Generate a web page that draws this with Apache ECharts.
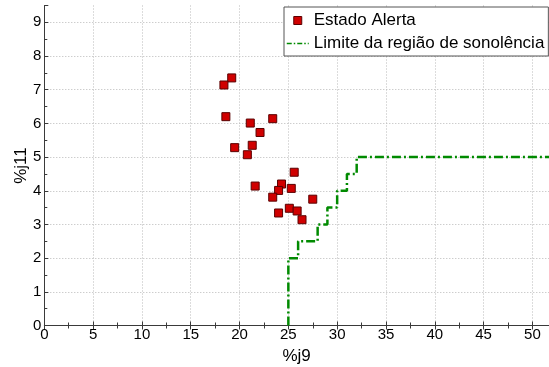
<!DOCTYPE html>
<html>
<head>
<meta charset="utf-8">
<script src="https://cdn.jsdelivr.net/npm/echarts@6/dist/echarts.min.js"></script>
<style>
  html, body { margin: 0; padding: 0; background: #fff; }
  #chart { width: 549px; height: 367px; }
</style>
</head>
<body>
<div id="chart"></div>
<script>
// Alert-state samples: %j9 (x) against %j11 (y)
const alertX = [19.2, 18.4, 18.6, 21.1, 23.4, 22.1, 19.5, 21.3, 20.8, 25.6,
                21.6, 24.3, 25.3, 24.0, 23.4, 27.5, 25.1, 24.0, 25.9, 26.4];
const alertY = [7.35, 7.14, 6.20, 6.01, 6.14, 5.73, 5.28, 5.35, 5.07, 4.55,
                4.14, 4.20, 4.07, 4.01, 3.81, 3.75, 3.48, 3.34, 3.40, 3.14];

// Stepped boundary of the drowsiness region
const limitX = [25, 25, 26, 26, 28, 28, 29, 29, 30, 30, 31, 31, 32, 32, 52];
const limitY = [0, 2, 2, 2.5, 2.5, 3, 3, 3.5, 3.5, 4, 4, 4.5, 4.5, 5, 5];

const seriesNames = ['Estado Alerta', 'Limite da região de sonolência'];

const X_MIN = 0, X_MAX = 51.7, X_STEP = 5;
const Y_MIN = 0, Y_MAX = 9.5, Y_STEP = 1;

const FONT = '"Liberation Sans", Arial, sans-serif';
const AXIS_COLOR = '#3a3a3a';
const GRID_COLOR = '#b8b8b8';
const MARK_FILL = '#d00000';
const MARK_EDGE = '#5a0000';
const LIMIT_COLOR = '#008a00';

const chart = echarts.init(document.getElementById('chart'), null, { renderer: 'canvas' });

const tickCommon = {
  axisTick: { show: true, inside: true, length: 4, lineStyle: { color: AXIS_COLOR } },
  minorTick: { show: true, splitNumber: 2, length: 3, lineStyle: { color: AXIS_COLOR } }
};

chart.setOption({
  animation: false,
  backgroundColor: '#fff',
  grid: { left: 44.3, right: 0, top: 5.5, bottom: 41.5, containLabel: false, outerBoundsMode: 'none' },
  legend: {
    orient: 'vertical',
    left: 284,
    top: 7,
    backgroundColor: '#fff',
    borderColor: '#555',
    borderWidth: 1,
    padding: [4, 4, 3, 2],
    itemWidth: 22,
    itemHeight: 8,
    itemGap: 4,
    symbolKeepAspect: true,
    textStyle: { fontFamily: FONT, fontSize: 17, color: '#000', lineHeight: 19 },
    data: [
      {
        name: seriesNames[0],
        icon: 'path://M0,0L1,0L1,1L0,1Z',
        itemStyle: { color: MARK_FILL, borderColor: MARK_EDGE, borderWidth: 1 }
      },
      {
        name: seriesNames[1],
        itemStyle: { opacity: 0 },
        lineStyle: { color: LIMIT_COLOR, width: 1.5, type: [5, 2, 1.5, 2] }
      }
    ]
  },
  xAxis: [
    Object.assign({
      type: 'value', min: X_MIN, max: X_MAX, interval: X_STEP,
      name: '%j9', nameLocation: 'middle', nameGap: 22, nameMoveOverlap: false,
      nameTextStyle: { fontFamily: FONT, fontSize: 17, color: '#000', verticalAlign: 'top' },
      axisLine: { show: true, onZero: false, lineStyle: { color: AXIS_COLOR, width: 1 } },
      axisLabel: { fontFamily: FONT, fontSize: 15, color: '#000', margin: 2, showMaxLabel: false },
      splitLine: { show: true, showMaxLine: false, lineStyle: { color: GRID_COLOR, type: [1, 2], width: 1 } }
    }, tickCommon),
    Object.assign({
      type: 'value', min: X_MIN, max: X_MAX, interval: X_STEP, position: 'top',
      axisLine: { show: false },
      axisLabel: { show: false },
      splitLine: { show: false }
    }, tickCommon)
  ],
  yAxis: [
    Object.assign({
      type: 'value', min: Y_MIN, max: Y_MAX, interval: Y_STEP,
      name: '%j11', nameLocation: 'middle', nameGap: 14, nameMoveOverlap: false,
      nameTextStyle: { fontFamily: FONT, fontSize: 17, color: '#000' },
      axisLine: { show: true, onZero: false, lineStyle: { color: AXIS_COLOR, width: 1 } },
      axisLabel: { fontFamily: FONT, fontSize: 15, color: '#000', margin: 3, showMaxLabel: false },
      splitLine: { show: true, showMaxLine: false, lineStyle: { color: GRID_COLOR, type: [1, 2], width: 1 } }
    }, tickCommon)
  ],
  series: [
    {
      name: seriesNames[0],
      type: 'scatter',
      xAxisIndex: 0,
      symbol: 'rect',
      symbolSize: 8,
      itemStyle: { color: MARK_FILL, borderColor: MARK_EDGE, borderWidth: 1, opacity: 1 },
      data: alertX.map((x, i) => [x, alertY[i]]),
      z: 3
    },
    {
      name: seriesNames[1],
      type: 'line',
      xAxisIndex: 0,
      symbol: 'none',
      lineStyle: { color: LIMIT_COLOR, width: 2.5, type: [9, 3, 2, 3] },
      itemStyle: { color: LIMIT_COLOR },
      data: limitX.map((x, i) => [x, limitY[i]]),
      z: 2
    }
  ]
});
</script>
</body>
</html>
